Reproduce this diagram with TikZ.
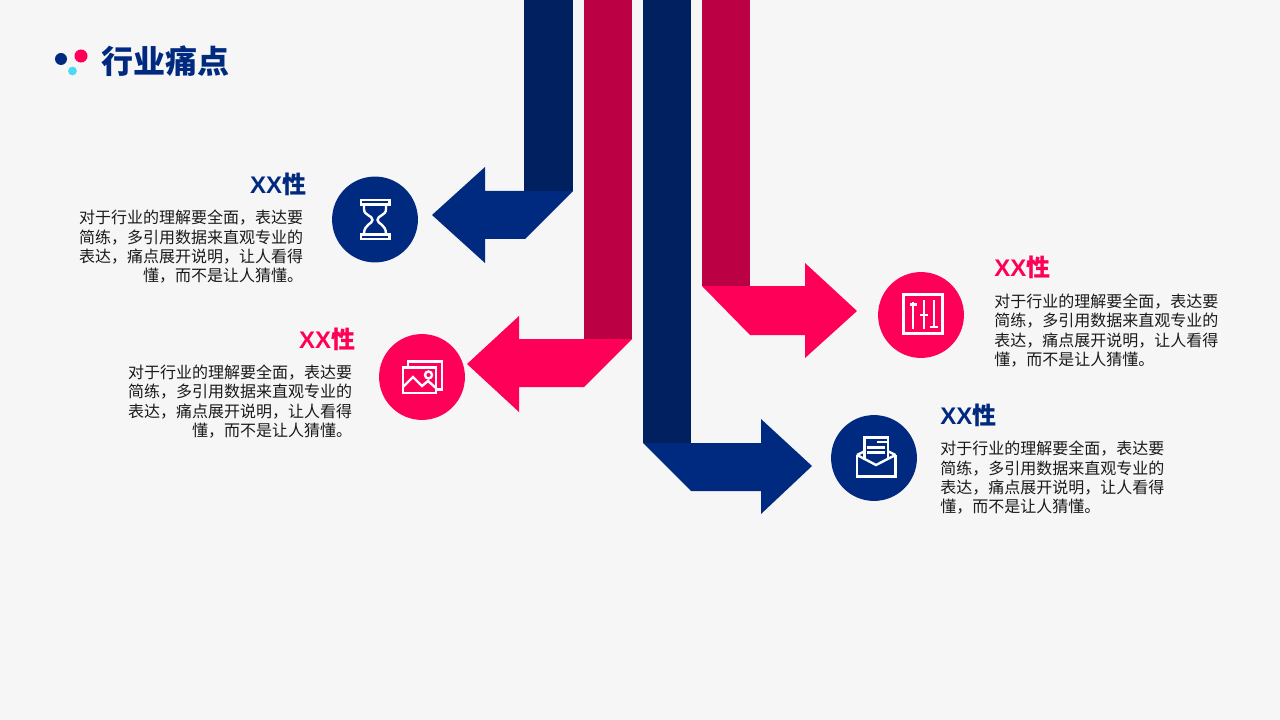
\documentclass[tikz,border=0pt]{standalone}
\usepackage{fontspec}
\setmainfont{Noto Sans CJK SC}
\newfontfamily\latinbold{Liberation Sans}[BoldFont={Liberation Sans Bold}]
\definecolor{bgc}{HTML}{F6F6F6}
\definecolor{navy}{HTML}{002A80}
\definecolor{navyd}{HTML}{002060}
\definecolor{pink}{HTML}{FF0058}
\definecolor{pinkd}{HTML}{BC0044}
\definecolor{cyanc}{HTML}{4DD9F5}
\definecolor{bodyc}{HTML}{1A1A1A}
\newcommand{\xxhead}{{\latinbold\bfseries XX}性}
\tikzset{
  x=0.75pt,y=-0.75pt,
  disc/.style={circle,minimum size=64.4pt,inner sep=0pt,fill=#1},
  dot/.style={circle,inner sep=0pt,minimum size=#1},
  headtext/.style={inner sep=0pt,font=\bfseries\fontsize{18pt}{20pt}\selectfont,text=#1},
  bodyl/.style={inner sep=0pt,align=left,anchor=north west,text=bodyc,font=\fontsize{12pt}{14.5pt}\selectfont},
  bodyr/.style={inner sep=0pt,align=right,anchor=north east,text=bodyc,font=\fontsize{12pt}{14.5pt}\selectfont},
  icon/.style={draw=white,line width=1.8pt,line join=miter},
}
\begin{document}
\begin{tikzpicture}
\useasboundingbox (0,0) rectangle (1280,720);
\fill[bgc] (0,0) rectangle (1280,720);
% title
\node[dot=9pt,fill=navy] (d1) at (61,59) {};
\node[dot=9.8pt,fill=pink] (d2) at (81,56) {};
\node[dot=6.6pt,fill=cyanc] (d3) at (72.5,71) {};
\node[inner sep=0pt,anchor=west,text=navy,font=\bfseries\fontsize{24pt}{26pt}\selectfont] (title) at (101,61) {行业痛点};
% bars
\fill[navyd] (524,0) rectangle (573,191);
\fill[pinkd] (584,0) rectangle (632,339);
\fill[navyd] (643,0) rectangle (691,443);
\fill[pinkd] (702,0) rectangle (750,286);
% arrows
\fill[navy] (432,215) -- (485,167) -- (485,191) -- (573,191) -- (525,239) -- (485,239) -- (485,263) -- cycle;
\fill[pink] (467,364) -- (519,316) -- (519,339) -- (632,339) -- (584,387) -- (519,387) -- (519,412) -- cycle;
\fill[navy] (643,443) -- (761,443) -- (761,419) -- (812,466) -- (761,514) -- (761,491) -- (691,491) -- cycle;
\fill[pink] (702,286) -- (805,286) -- (805,263) -- (857,311) -- (805,358) -- (805,335) -- (750,335) -- cycle;
% discs
\node[disc=navy] (c1) at (375,219.5) {};
\node[disc=pink] (c2) at (422,377) {};
\node[disc=pink] (c3) at (921,315) {};
\node[disc=navy] (c4) at (874,458) {};
% hourglass
\draw[icon] (361,200) rectangle (389.5,204.5);
\draw[icon] (361,234.5) rectangle (389.5,239);
\draw[icon] (364,205) -- (364,209) .. controls (364,216) and (372.5,215) .. (372.5,220) .. controls (372.5,224) and (364,224) .. (364,234);
\draw[icon] (386,205) -- (386,209) .. controls (386,216) and (377.5,215) .. (377.5,220) .. controls (377.5,224) and (386,224) .. (386,234);
% image
\draw[icon] (408,367) -- (408,361.5) -- (442,361.5) -- (442,389.5) -- (436,389.5);
\draw[icon] (403,367.5) rectangle (436,393);
\draw[icon] (403,387) -- (413,377) -- (422,386) -- (428,381) -- (436,388);
\draw[icon] (428.5,375) circle (3.5);
% sliders
\draw[icon] (903.5,294.5) rectangle (942.5,333.5);
\draw[icon] (913,302) -- (913,329);
\draw[icon] (909.5,304.5) -- (916.5,304.5);
\draw[icon] (924,300) -- (924,329);
\draw[icon] (920,315) -- (928,315);
\draw[icon] (934,300) -- (934,328);
\draw[icon] (930,327) -- (938,327);
% mail
\draw[icon] (857,455) -- (857,476.5) -- (895.5,476.5) -- (895.5,455);
\draw[icon] (857,455) -- (864,451.5);
\draw[icon] (895.5,455) -- (888.5,451.5);
\draw[icon] (857,455) -- (876,465) -- (895.5,455);
\draw[icon] (864.5,460) -- (864.5,437.5) -- (888,437.5) -- (888,460);
\draw[icon] (877,442) -- (888,442);
\draw[icon] (867,447.5) -- (885,447.5);
\draw[icon] (867,452.5) -- (885,452.5);
% texts
\node[headtext=navy,anchor=east] (h1) at (306.5,184.5) {\xxhead};
\node[bodyr] (b1) at (303.5,210) {对于行业的理解要全面，表达要\\简练，多引用数据来直观专业的\\表达，痛点展开说明，让人看得\\懂，而不是让人猜懂。};
\node[headtext=pink,anchor=east] (h2) at (355.5,339.5) {\xxhead};
\node[bodyr] (b2) at (352.5,364.5) {对于行业的理解要全面，表达要\\简练，多引用数据来直观专业的\\表达，痛点展开说明，让人看得\\懂，而不是让人猜懂。};
\node[headtext=pink,anchor=west] (h3) at (994,267.5) {\xxhead};
\node[bodyl] (b3) at (994,293.5) {对于行业的理解要全面，表达要\\简练，多引用数据来直观专业的\\表达，痛点展开说明，让人看得\\懂，而不是让人猜懂。};
\node[headtext=navy,anchor=west] (h4) at (940,415.5) {\xxhead};
\node[bodyl] (b4) at (940,441) {对于行业的理解要全面，表达要\\简练，多引用数据来直观专业的\\表达，痛点展开说明，让人看得\\懂，而不是让人猜懂。};
\end{tikzpicture}
\end{document}
